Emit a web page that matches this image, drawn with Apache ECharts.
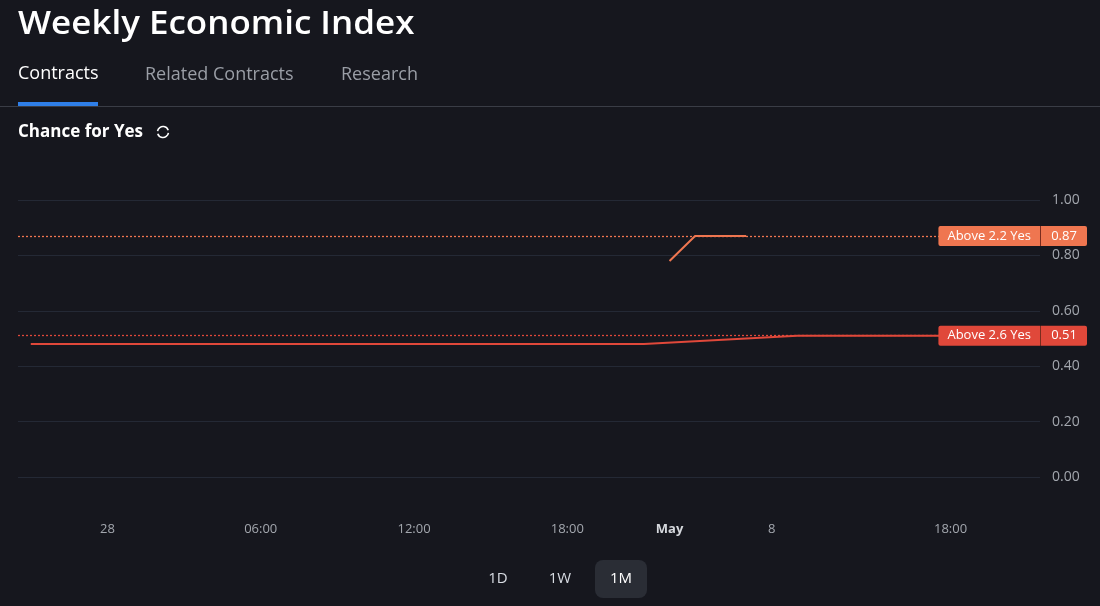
<!DOCTYPE html>
<html>
<head>
<meta charset="utf-8">
<script src="https://cdn.jsdelivr.net/npm/echarts@6/dist/echarts.min.js"></script>
<style>
  html, body { margin: 0; padding: 0; background: #16171e; }
  #main { width: 1100px; height: 606px; }
</style>
</head>
<body>
<div id="main"></div>
<script>
// x is in hours from "28" (compressed timeline like the source chart)
const xTickPos = [0, 6, 12, 18, 22, 26, 33];
const xTickLabels = ['28', '06:00', '12:00', '18:00', 'May', '8', '18:00'];

const above26X = [-3, 21, 27, 36.5];
const above26Y = [0.48, 0.48, 0.51, 0.51];
const above22X = [22, 23, 25];
const above22Y = [0.78, 0.87, 0.87];

const above26Name = 'Above 2.6 Yes';
const above22Name = 'Above 2.2 Yes';
const above26Last = 0.51;
const above22Last = 0.87;

const ORANGE = '#ef7650';
const RED = '#e0483a';
const FONT = '"Open Sans", sans-serif';
const X_MIN = -3.5, X_MAX = 36.5;

const zip = (xs, ys) => xs.map((x, i) => [x, ys[i]]);

const tagLabel = (name, val, color) => ({
    show: true,
    position: [47, 0],
    align: 'right',
    verticalAlign: 'middle',
    formatter: '{a|' + name + '}{s| }{b|' + val.toFixed(2) + '}',
    rich: {
        a: { backgroundColor: color, color: '#fff', fontSize: 13, fontFamily: FONT, height: 20, lineHeight: 20, padding: [0, 9, 0, 9], borderRadius: [2, 0, 0, 2] },
        s: { backgroundColor: '#7a2c1e', width: 1, height: 20, fontSize: 1 },
        b: { backgroundColor: color, color: '#fff', fontSize: 13, fontFamily: FONT, height: 20, lineHeight: 20, width: 32, align: 'center', padding: [0, 7, 0, 7], borderRadius: [0, 2, 2, 0] }
    }
});

const markLine = (value, color) => ({
    silent: true,
    symbol: 'none',
    label: { show: false },
    lineStyle: { color: color, type: [2, 2], width: 1.3, opacity: 1 },
    data: [{ yAxis: value }]
});

const chart = echarts.init(document.getElementById('main'));
chart.setOption({
    backgroundColor: '#16171e',
    animation: false,
    textStyle: { fontFamily: FONT },
    grid: { left: 18, right: 60, top: 200, bottom: 129, containLabel: false },
    xAxis: {
        type: 'value',
        min: X_MIN,
        max: X_MAX,
        axisLine: { show: false },
        axisTick: { show: false },
        splitLine: { show: false },
        axisLabel: {
            customValues: xTickPos,
            margin: 46,
            color: '#a3a7ae',
            fontSize: 13,
            fontFamily: FONT,
            formatter: (v) => {
                const i = xTickPos.indexOf(v);
                const t = i >= 0 ? xTickLabels[i] : '';
                return t === 'May' ? '{m|May}' : t;
            },
            rich: { m: { color: '#d5d8dd', fontWeight: 'bold', fontSize: 13, fontFamily: FONT } }
        }
    },
    yAxis: {
        type: 'value',
        position: 'right',
        min: 0,
        max: 1,
        interval: 0.2,
        axisLine: { show: false },
        axisTick: { show: false },
        splitLine: { lineStyle: { color: '#242935', width: 1 } },
        axisLabel: {
            margin: 12,
            color: '#a3a7ae',
            fontSize: 14,
            fontFamily: FONT,
            formatter: (v) => v.toFixed(2)
        }
    },
    series: [
        {
            name: above26Name,
            type: 'line',
            data: zip(above26X, above26Y),
            symbol: 'none',
            lineStyle: { color: RED, width: 2 },
            z: 3,
            markLine: markLine(above26Last, RED),
            markPoint: {
                silent: true,
                symbol: 'rect',
                symbolSize: 0,
                data: [{ coord: [X_MAX, above26Last] }],
                label: tagLabel(above26Name, above26Last, RED)
            }
        },
        {
            name: above22Name,
            type: 'line',
            data: zip(above22X, above22Y),
            symbol: 'none',
            lineStyle: { color: ORANGE, width: 2 },
            z: 3,
            markLine: markLine(above22Last, ORANGE),
            markPoint: {
                silent: true,
                symbol: 'rect',
                symbolSize: 0,
                data: [{ coord: [X_MAX, above22Last] }],
                label: tagLabel(above22Name, above22Last, ORANGE)
            }
        }
    ],
    graphic: [
        { type: 'text', x: 18, y: 25, scaleX: 1.06, style: { text: 'Weekly Economic Index', fill: '#ffffff', font: '600 33px "Open Sans", sans-serif', verticalAlign: 'middle' } },
        { type: 'text', x: 18, y: 74, style: { text: 'Contracts', fill: '#ffffff', font: '18px "Open Sans", sans-serif', verticalAlign: 'middle' } },
        { type: 'text', x: 145, y: 75, style: { text: 'Related Contracts', fill: '#9a9ea6', font: '18px "Open Sans", sans-serif', verticalAlign: 'middle' } },
        { type: 'text', x: 341, y: 75, style: { text: 'Research', fill: '#9a9ea6', font: '18px "Open Sans", sans-serif', verticalAlign: 'middle' } },
        { type: 'rect', shape: { x: 18, y: 102, width: 80, height: 4 }, style: { fill: '#2f7fe8' } },
        { type: 'rect', shape: { x: 0, y: 106, width: 1100, height: 1 }, style: { fill: '#3a3d46' } },
        { type: 'text', x: 18, y: 132, style: { text: 'Chance for Yes', fill: '#ffffff', font: 'bold 17px "Open Sans", sans-serif', verticalAlign: 'middle' } },
        { type: 'arc', shape: { cx: 163, cy: 132, r: 5.5, startAngle: -Math.PI * 0.95, endAngle: -Math.PI * 0.1 }, style: { stroke: '#ffffff', lineWidth: 1.6, fill: null } },
        { type: 'arc', shape: { cx: 163, cy: 132, r: 5.5, startAngle: Math.PI * 0.05, endAngle: Math.PI * 0.9 }, style: { stroke: '#ffffff', lineWidth: 1.6, fill: null } },
        { type: 'rect', shape: { x: 595, y: 560, width: 52, height: 38, r: 8 }, style: { fill: '#2a2d35' } },
        { type: 'text', x: 498, y: 579, style: { text: '1D', fill: '#d8dce3', font: '15px "Open Sans", sans-serif', align: 'center', verticalAlign: 'middle' } },
        { type: 'text', x: 560, y: 579, style: { text: '1W', fill: '#d8dce3', font: '15px "Open Sans", sans-serif', align: 'center', verticalAlign: 'middle' } },
        { type: 'text', x: 621, y: 579, style: { text: '1M', fill: '#ffffff', font: '15px "Open Sans", sans-serif', align: 'center', verticalAlign: 'middle' } }
    ]
});
</script>
</body>
</html>
